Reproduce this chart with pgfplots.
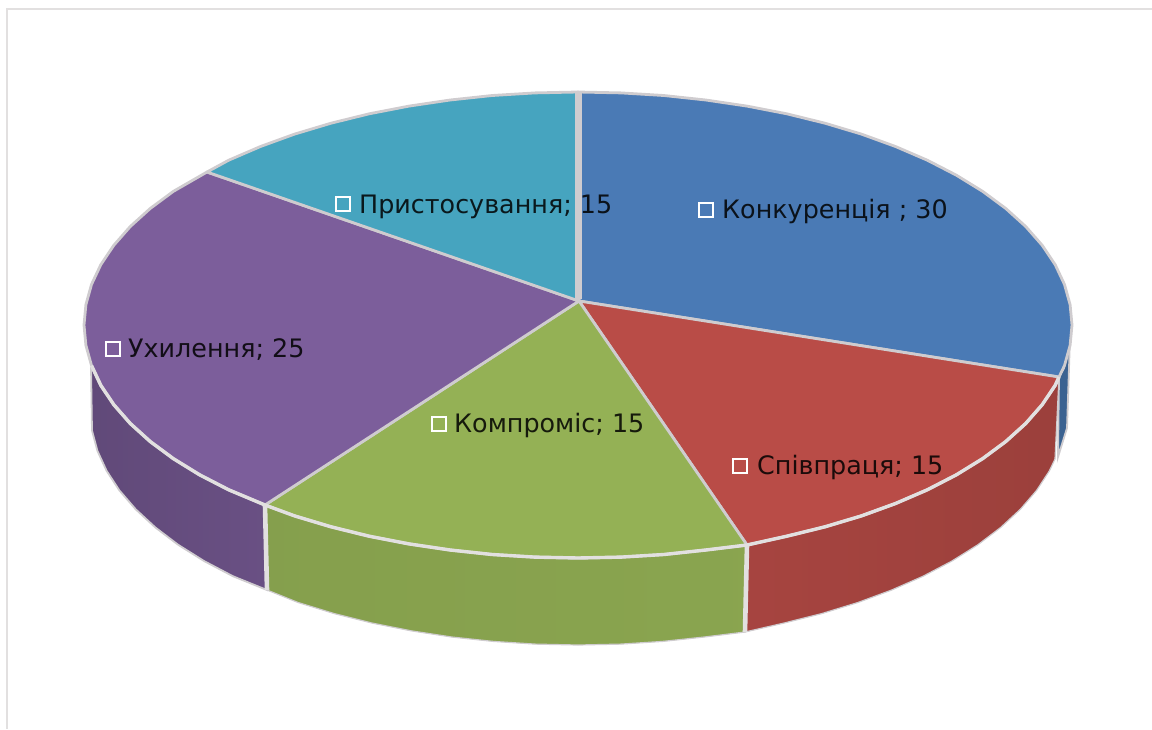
\documentclass[border=0pt]{standalone}
\usepackage{pgfplots}
\pgfplotsset{compat=1.18}
\usepackage{fontspec}
\setmainfont{DejaVu Sans}
\definecolor{blueTop}{HTML}{4A7AB5}
\definecolor{redTop}{HTML}{B94C47}
\definecolor{greenTop}{HTML}{94B155}
\definecolor{purpleTop}{HTML}{7C5E9B}
\definecolor{tealTop}{HTML}{46A4BF}
\definecolor{rimGrey}{HTML}{CFCCCF}
\definecolor{seam}{HTML}{E2E0E0}
\tikzset{datalabel/.style={font=\fontsize{25.4pt}{27pt}\selectfont, anchor=base west, text=black, text opacity=0.85, inner sep=0pt}}
\begin{document}
\begin{tikzpicture}
\useasboundingbox (0,0) rectangle (1152pt,729pt);
\begin{axis}[
  at={(0,0)}, anchor=south west,
  width=1152pt, height=729pt, scale only axis,
  xmin=0, xmax=1152, ymin=0, ymax=729, y dir=reverse,
  axis lines=none, clip=true,
  wedge/.style={draw=rimGrey, line width=2.8pt, line join=round},
]
% frame around the chart area
\addplot[draw=seam, line width=2pt] coordinates {(7,729) (7,9) (1152,9)};

% side walls of the disc
\addplot[fill=blueTop!80!black, draw=rimGrey, line width=1.8pt] coordinates {
  (1059,377) (1064,368) (1069,345) (1070,338) (1067,428) (1058,457)} -- cycle;
\addplot[shade, left color=redTop!90!black, right color=redTop!84!black, draw=rimGrey, line width=1.2pt] coordinates {
  (1059,377) (1055.2,385.3) (1042.2,404.7) (1025.7,423.5) (1005.8,441.5) (982.7,458.6) (956.4,474.8)
  (927.3,489.8) (895.5,503.5) (861.4,515.9) (825,526.8) (786.8,536.2) (747,545)
  (745,632) (784.2,623) (822,613.5) (857.9,602.5) (891.7,590) (923.1,576.2) (951.8,561.1)
  (977.8,544.8) (1000.6,527.5) (1020.3,509.3) (1036.6,490.4) (1049.4,470.8) (1055,459)} -- cycle;
\addplot[shade, left color=greenTop!90!black, right color=greenTop!93!black, draw=rimGrey, line width=1.2pt] coordinates {
  (747,545) (705.8,550) (663.8,554.5) (621.1,557.1) (578,558) (534.9,557.1) (492.2,554.5)
  (450.2,550) (409,543.9) (369.2,536.2) (331,526.8) (294.6,515.9) (265,505)
  (267,590) (298.1,602.5) (334,613.5) (371.8,623) (411.1,630.8) (451.7,637) (493.3,641.4)
  (535.4,644.1) (578,645) (620.6,644.1) (662.7,641.4) (704.3,637) (745,632)} -- cycle;
\addplot[shade, left color=purpleTop!78!black, right color=purpleTop!85!black, draw=rimGrey, line width=1.8pt] coordinates {
  (265,505) (228.7,489.8) (199.6,474.8) (173.3,458.6) (150.2,441.5) (130.3,423.5) (113.8,404.7)
  (100.8,385.3) (91,366)
  (92,430.5) (97.4,450.8) (106.6,470.8) (119.4,490.4) (135.7,509.3) (155.4,527.5) (178.2,544.8)
  (204.2,561.1) (232.9,576.2) (267,590)} -- cycle;

% seams between the wall segments
\addplot[draw=seam, line width=4.6pt] coordinates {(747,545) (745,632)};
\addplot[draw=seam, line width=4.6pt] coordinates {(265,505) (267,590)};

% top surface: Конкуренція 30, Співпраця 15, Компроміс 15, Ухилення 25, Пристосування 15
\addplot[fill=blueTop, wedge] coordinates {
  (579,301) (578,92) (621.1,92.9) (663.8,95.5) (705.8,100) (747,106.1) (786.8,113.8) (825,123.2)
  (861.4,134.1) (895.5,146.5) (927.3,160.2) (956.4,175.2) (982.7,191.4) (1005.8,208.5) (1025.7,226.5)
  (1042.2,245.3) (1055.2,264.7) (1064.5,284.5) (1070.1,304.7) (1072,325) (1070.1,345.3) (1064.5,365.5)
  (1059,377)} -- cycle;
\addplot[fill=redTop, wedge] coordinates {
  (579,301) (1059,377) (1055.2,385.3) (1042.2,404.7) (1025.7,423.5) (1005.8,441.5) (982.7,458.6)
  (956.4,474.8) (927.3,489.8) (895.5,503.5) (861.4,515.9) (825,526.8) (786.8,536.2) (747,545)} -- cycle;
\addplot[fill=greenTop, wedge] coordinates {
  (579,301) (747,545) (705.8,550) (663.8,554.5) (621.1,557.1) (578,558) (534.9,557.1) (492.2,554.5)
  (450.2,550) (409,543.9) (369.2,536.2) (331,526.8) (294.6,515.9) (265,505)} -- cycle;
\addplot[fill=purpleTop, wedge] coordinates {
  (579,301) (265,505) (228.7,489.8) (199.6,474.8) (173.3,458.6) (150.2,441.5) (130.3,423.5) (113.8,404.7)
  (100.8,385.3) (91.5,365.5) (85.9,345.3) (84,325) (85.9,304.7) (91.5,284.5) (100.8,264.7) (113.8,245.3)
  (130.3,226.5) (150.2,208.5) (173.3,191.4) (207,172)} -- cycle;
\addplot[fill=tealTop, wedge] coordinates {
  (579,301) (207,172) (228.7,160.2) (260.5,146.5) (294.6,134.1) (331,123.2) (369.2,113.8) (409,106.1)
  (450.2,100) (492.2,95.5) (534.9,92.9) (578,92)} -- cycle;

% lighter front rim of the top surface
\addplot[draw=seam, line width=3.4pt, line join=round] coordinates {
  (1059,377) (1055.2,385.3) (1042.2,404.7) (1025.7,423.5) (1005.8,441.5) (982.7,458.6)
  (956.4,474.8) (927.3,489.8) (895.5,503.5) (861.4,515.9) (825,526.8) (786.8,536.2) (747,545)
  (705.8,550) (663.8,554.5) (621.1,557.1) (578,558) (534.9,557.1) (492.2,554.5)
  (450.2,550) (409,543.9) (369.2,536.2) (331,526.8) (294.6,515.9) (265,505)
  (228.7,489.8) (199.6,474.8) (173.3,458.6) (150.2,441.5) (130.3,423.5) (113.8,404.7)
  (100.8,385.3) (91.5,365.5)};

% broad divider at the start of the first slice
\addplot[draw=rimGrey, line width=7pt] coordinates {(578,93) (578,299)};

% data label keys
\addplot[only marks, mark=square, mark size=7.2pt, mark options={draw=white, line width=1.6pt, fill=none}] coordinates {
  (706,210) (740,466) (439,424) (113,349) (343,204)};

% data labels
\node[datalabel] at (axis cs:722,218) {Конкуренція ; 30};
\node[datalabel] at (axis cs:757,474) {Співпраця; 15};
\node[datalabel] at (axis cs:454,432) {Компроміс; 15};
\node[datalabel] at (axis cs:128,357) {Ухилення; 25};
\node[datalabel] at (axis cs:359,213) {Пристосування; 15};
\end{axis}
\end{tikzpicture}
\end{document}
